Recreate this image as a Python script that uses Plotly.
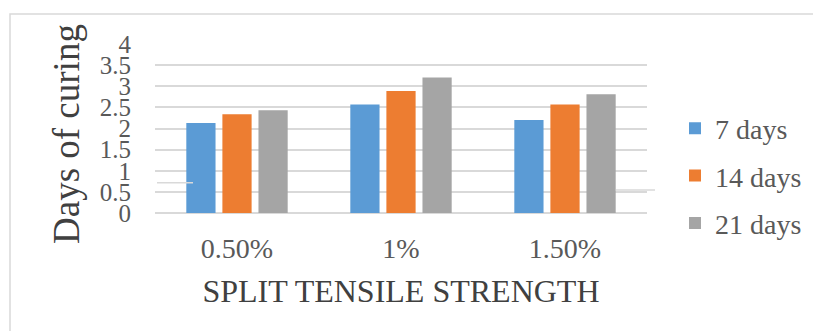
import plotly.graph_objects as go

categories = ["0.50%", "1%", "1.50%"]
series_names = ["7 days", "14 days", "21 days"]
days7 = [2.13, 2.57, 2.20]
days14 = [2.34, 2.89, 2.57]
days21 = [2.43, 3.21, 2.81]
series_values = [days7, days14, days21]
colors = ["#5B9BD5", "#ED7D31", "#A5A5A5"]
y_ticks = [0, 0.5, 1, 1.5, 2, 2.5, 3, 3.5, 4]
y_tick_labels = ["0", "0.5", "1", "1.5", "2", "2.5", "3", "3.5", "4"]

W, H = 813, 331
L, R, T, B = 155, 166, 44, 118
PW, PH = W - L - R, H - T - B


def px(x):
    return (x - L) / PW


def py(y):
    return (H - B - y) / PH


FONT = "Liberation Serif, Times New Roman, serif"

fig = go.Figure()
for i, (name, vals) in enumerate(zip(series_names, series_values)):
    fig.add_trace(go.Bar(
        x=categories, y=vals, name=name, marker_color=colors[i],
        marker_line_width=0, legendgroup=name,
    ))

fig.update_layout(
    width=W, height=H,
    margin=dict(l=L, r=R, t=T, b=B, pad=0, autoexpand=False),
    paper_bgcolor="white", plot_bgcolor="white",
    barmode="group", bargap=0.34, bargroupgap=0.19,
    font=dict(family=FONT, color="#595959"),
    showlegend=True,
    legend=dict(
        x=px(675), y=py(176), xanchor="left", yanchor="middle",
        font=dict(family=FONT, size=28, color="#595959"),
        tracegroupgap=8, bgcolor="rgba(0,0,0,0)",
    ),
    xaxis=dict(
        type="category", showgrid=False, zeroline=False, showline=False,
        tickfont=dict(family=FONT, size=28, color="#595959"),
        ticks="", ticklabelstandoff=16, automargin=False,
        title=dict(text="SPLIT TENSILE STRENGTH",
                   font=dict(family=FONT, size=32, color="#404040"),
                   standoff=16),
    ),
    yaxis=dict(
        range=[0, 4], tickvals=y_ticks, ticktext=y_tick_labels,
        showgrid=True, gridcolor="#D9D9D9", gridwidth=1.5,
        zeroline=True, zerolinecolor="#D9D9D9", zerolinewidth=1.5,
        showline=False, ticks="", ticklabelstandoff=23, automargin=False,
        tickfont=dict(family=FONT, size=25, color="#595959"),
    ),
)

fig.add_annotation(
    text="Days of curing", textangle=-90, showarrow=False,
    xref="paper", yref="paper", x=px(66), y=py(134),
    xanchor="center", yanchor="middle",
    font=dict(family=FONT, size=37, color="#404040"),
)

# outer chart border
fig.add_shape(type="rect", xref="paper", yref="paper",
              x0=px(10), x1=px(830), y0=py(14), y1=py(345),
              line=dict(color="#D9D9D9", width=1.5), layer="below")
# small stray lines seen in the reference
fig.add_shape(type="line", xref="paper", yref="paper",
              x0=px(157), x1=px(193), y0=py(182.7), y1=py(182.7),
              line=dict(color="#D9D9D9", width=1.5))
fig.add_shape(type="line", xref="paper", yref="paper",
              x0=px(616), x1=px(655), y0=py(190), y1=py(190),
              line=dict(color="#D9D9D9", width=1.5))

fig.write_html("out.html")
